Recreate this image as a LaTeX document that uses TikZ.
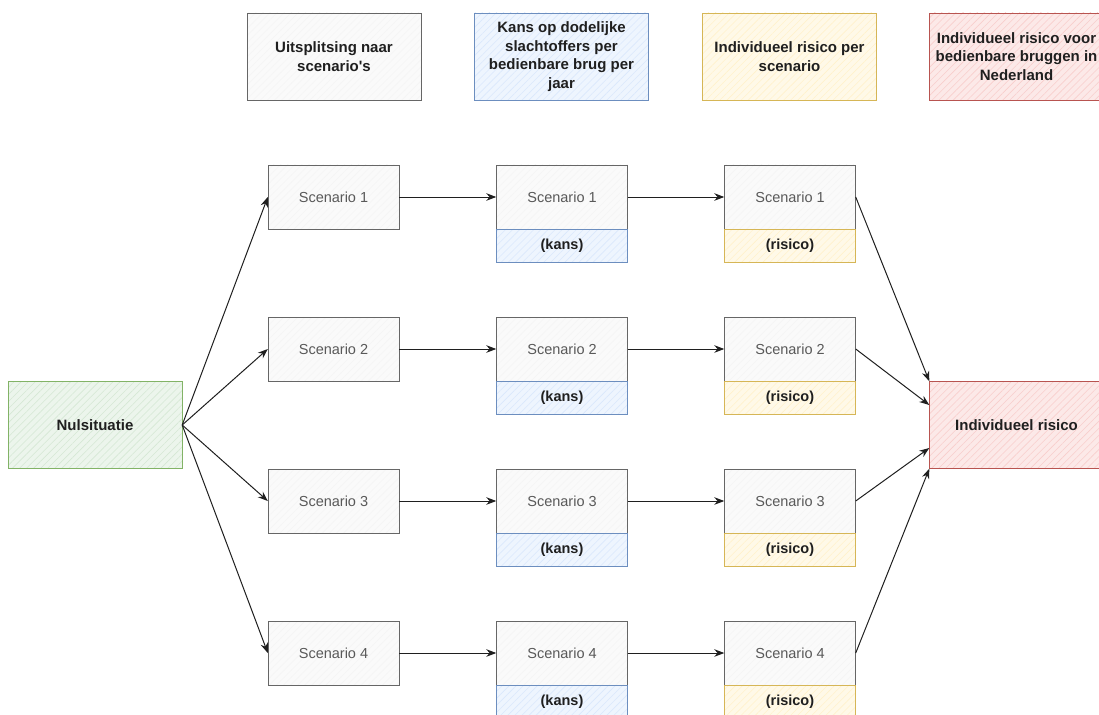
\documentclass[tikz,border=0pt]{standalone}
\usepackage{fontspec}
\setmainfont{Liberation Sans}
\usetikzlibrary{arrows.meta,patterns.meta}
\definecolor{grijslijn}{HTML}{666666}
\definecolor{grijsvul}{HTML}{F5F5F5}
\definecolor{blauwlijn}{HTML}{6C8EBF}
\definecolor{blauwvul}{HTML}{DAE8FC}
\definecolor{geellijn}{HTML}{D6B656}
\definecolor{geelvul}{HTML}{FFF2CC}
\definecolor{groenlijn}{HTML}{82B366}
\definecolor{groenvul}{HTML}{D5E8D4}
\definecolor{roodlijn}{HTML}{B85450}
\definecolor{roodvul}{HTML}{F8CECC}
\tikzset{
  kleur/.style 2 args={fill=#2!45,
              postaction={pattern={Lines[angle=45,distance=5pt,line width=0.6pt]}, pattern color=#2},
              postaction={draw=#1, line width=0.8pt}},
  kop/.style={minimum width=174pt, minimum height=87pt, inner sep=0pt, align=center,
              font=\bfseries\fontsize{15}{18.5}\selectfont, text=black!88},
  scen/.style={minimum width=131pt, minimum height=64pt, inner sep=0pt,
              font=\fontsize{14.5}{17}\selectfont, text=black!65},
  waarde/.style={minimum width=131pt, minimum height=33pt, inner sep=0pt, anchor=north,
              font=\bfseries\fontsize{14.5}{17}\selectfont, text=black!88},
  pijl/.style={-{Stealth[length=10pt,width=7.5pt]}, line width=1pt, black!88},
}
\begin{document}
\begin{tikzpicture}[x=1pt,y=-1pt]
  \useasboundingbox (0,0) rectangle (1099,714);
  % koppen
  \node[kop,kleur={grijslijn}{grijsvul}] (kopuit) at (334,56.5) {Uitsplitsing naar\\scenario\textquotesingle s};
  \node[kop,kleur={blauwlijn}{blauwvul}] (kopkans) at (561.5,56.5) {Kans op dodelijke\\slachtoffers per\\bedienbare brug per\\jaar};
  \node[kop,kleur={geellijn}{geelvul}] (kopris) at (789.5,56.5) {Individueel risico per\\scenario};
  \node[kop,kleur={roodlijn}{roodvul}] (kopnl) at (1016.5,56.5) {Individueel risico voor\\bedienbare bruggen in\\Nederland};
  % begin en eind
  \node[kop,kleur={groenlijn}{groenvul}] (nul) at (95,425) {Nulsituatie};
  \node[kop,kleur={roodlijn}{roodvul}] (ir) at (1016.5,425) {Individueel risico};
  % scenario's
  \foreach \i/\y in {1/197,2/349,3/501,4/653} {
    \node[scen,kleur={grijslijn}{grijsvul}] (uit\i) at (333.5,\y) {Scenario \i};
    \node[scen,kleur={grijslijn}{grijsvul}] (kans\i) at (562,\y) {Scenario \i};
    \node[waarde,kleur={blauwlijn}{blauwvul}] (kansval\i) at (kans\i.south) {(kans)};
    \node[scen,kleur={grijslijn}{grijsvul}] (ris\i) at (790,\y) {Scenario \i};
    \node[waarde,kleur={geellijn}{geelvul}] (risval\i) at (ris\i.south) {(risico)};
    \draw[pijl] (nul.east) -- (uit\i.west);
    \draw[pijl] (uit\i) -- (kans\i);
    \draw[pijl] (kans\i) -- (ris\i);
  }
  \draw[pijl] (ris1.east) -- (ir.north west);
  \draw[pijl] (ris2.east) -- ([yshift=20pt]ir.west);
  \draw[pijl] (ris3.east) -- ([yshift=-23pt]ir.west);
  \draw[pijl] (ris4.east) -- (ir.south west);
\end{tikzpicture}
\end{document}
